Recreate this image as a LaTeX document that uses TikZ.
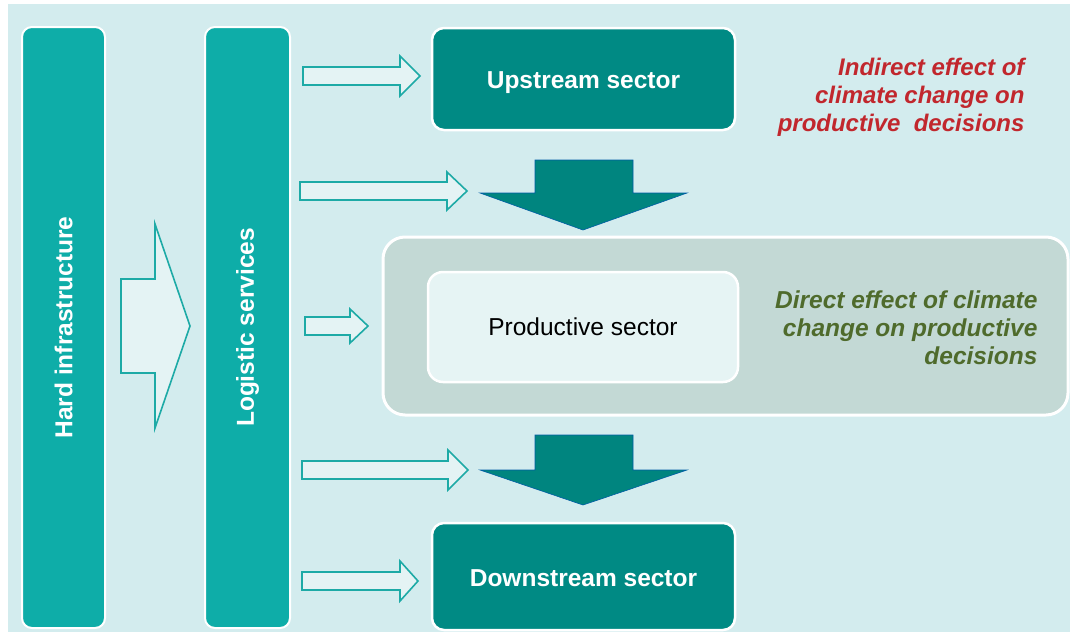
\documentclass[tikz,border=0pt]{standalone}
\usepackage{fontspec}
\setmainfont{Liberation Sans}
\usepackage{tikz}
\usetikzlibrary{positioning}
\definecolor{bgcyan}{HTML}{D3ECEE}
\definecolor{barteal}{HTML}{0EADA8}
\definecolor{boxteal}{HTML}{008A84}
\definecolor{arrteal}{HTML}{00857F}
\definecolor{hollowfill}{HTML}{E4F3F4}
\definecolor{hollowline}{HTML}{1DAAA6}
\definecolor{panelgrey}{HTML}{C3D9D5}
\definecolor{prodfill}{HTML}{E6F4F4}
\definecolor{indirectred}{HTML}{C1272D}
\definecolor{directgreen}{HTML}{4F6B2C}

\begin{document}
\begin{tikzpicture}[x=1pt, y=-1pt,
	bar/.style={draw=white, line width=2pt, fill=barteal, rounded corners=10pt, rotate=90,
		text=white, font=\fontsize{24.5}{28}\selectfont\bfseries},
	sector/.style={draw=white, line width=2.5pt, fill=boxteal, rounded corners=12pt,
		text=white, font=\fontsize{24.5}{28}\selectfont\bfseries},
	hollow/.style={draw=hollowline, line width=1.6pt, fill=hollowfill, line join=miter},
	downarrow/.style={fill=arrteal, draw=arrteal!70!blue, line width=0.6pt},
	effect/.style={align=right, anchor=east, font=\fontsize{24}{28}\selectfont\bfseries\itshape}]
	\useasboundingbox (0,0) rectangle (1070,632);
	\fill[bgcyan] (8,4) rectangle (1070,632);

	\node[bar, minimum width=601pt, minimum height=83pt] (hard) at (63.5,327.5) {Hard infrastructure};
	\node[bar, minimum width=601pt, minimum height=85pt] (logis) at (247.5,327.5) {Logistic services};

	\node[sector, minimum width=303pt, minimum height=102pt] (up) at (583.5,79) {\raisebox{-4pt}[\height][\depth]{Upstream sector}};
	\node[sector, minimum width=303pt, minimum height=107pt] (down) at (583.5,576.5) {\raisebox{-2pt}[\height][\depth]{Downstream sector}};

	\node[draw=white, line width=3pt, fill=panelgrey, rounded corners=22pt,
		minimum width=685pt, minimum height=178pt] (panel) at (725.5,326) {};
	\node[draw=white, line width=2.5pt, fill=prodfill, rounded corners=15pt,
		minimum width=310pt, minimum height=110pt, font=\fontsize{24.5}{28}\selectfont] (prod) at (583,327) {Productive sector};

	\node[effect, text=indirectred] (indirect) at (1028,97) {Indirect effect of\\climate change on\\productive\ \ decisions};
	\node[effect, text=directgreen, font=\fontsize{24.5}{28}\selectfont\bfseries\itshape] (direct) at (1041,328) {Direct effect of climate\\change on productive\\decisions};

	\draw[hollow] (121,279) -- (155,279) -- (155,224) -- (190,326) -- (155,428) -- (155,373) -- (121,373) -- cycle;

	\draw[hollow] (303,67) -- (400,67) -- (400,56) -- (420,76) -- (400,96) -- (400,85) -- (303,85) -- cycle;
	\draw[hollow] (300,182) -- (447,182) -- (447,172) -- (467,191) -- (447,210) -- (447,200) -- (300,200) -- cycle;
	\draw[hollow] (305,317) -- (350,317) -- (350,309) -- (368,326) -- (350,343) -- (350,335) -- (305,335) -- cycle;
	\draw[hollow] (302,461) -- (448,461) -- (448,450) -- (468,470) -- (448,490) -- (448,479) -- (302,479) -- cycle;
	\draw[hollow] (302,572) -- (400,572) -- (400,561) -- (418,581) -- (400,601) -- (400,590) -- (302,590) -- cycle;

	\draw[downarrow] (535,160) -- (633,160) -- (633,193) -- (687,193) -- (583,230) -- (480,193) -- (535,193) -- cycle;
	\draw[downarrow] (535,435) -- (633,435) -- (633,470) -- (687,470) -- (583,505) -- (480,470) -- (535,470) -- cycle;
\end{tikzpicture}
\end{document}
